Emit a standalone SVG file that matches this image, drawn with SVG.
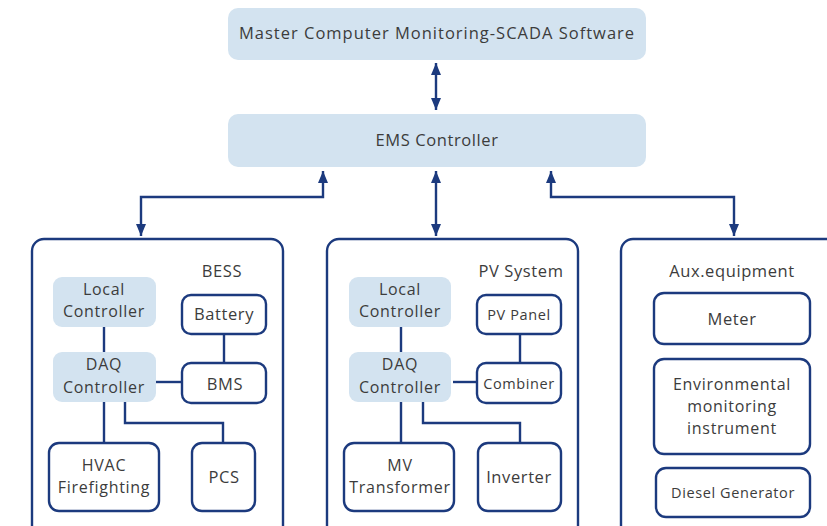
<svg xmlns="http://www.w3.org/2000/svg" width="827" height="526" viewBox="0 0 827 526">
<defs>
<style>
.lb{fill:#d3e3f0;stroke:none}
.bx{fill:#ffffff;stroke:#1c3a7e;stroke-width:2.4}
.ct{fill:none;stroke:#1c3a7e;stroke-width:2.4}
.ln{fill:none;stroke:#1c3a7e;stroke-width:2.4}
text{font-family:"Open Sans","Liberation Sans",sans-serif;font-size:16.5px;letter-spacing:0.6px;fill:#3c3c3c;text-anchor:middle}
.ml{font-size:16px;letter-spacing:0.7px}
.sm{font-size:14.5px;letter-spacing:0.6px}
</style>
<marker id="ah" viewBox="0 0 12 10" refX="12" refY="5" markerUnits="userSpaceOnUse" markerWidth="12" markerHeight="10" orient="auto-start-reverse">
<path d="M0,0 L12,5 L0,10 z" fill="#1c3a7e"/>
</marker>
</defs>
<g id="scada"><rect class="lb" x="228" y="8" width="418" height="52" rx="10"/><text x="437" y="39" style="letter-spacing:1px">Master Computer Monitoring-SCADA Software</text></g>
<g id="ems"><rect class="lb" x="228" y="114" width="418" height="53" rx="10"/><text x="437" y="146">EMS Controller</text></g>
<g id="bess"><rect class="ct" x="32" y="239" width="251" height="300" rx="12"/><text x="222" y="277">BESS</text></g>
<g id="bess-local"><rect class="lb" x="53" y="277" width="103" height="50" rx="9"/><text class="ml" x="104" y="295">Local</text><text class="ml" x="104" y="317">Controller</text></g>
<g id="bess-daq"><rect class="lb" x="53" y="352" width="103" height="50" rx="9"/><text class="ml" x="104" y="370">DAQ</text><text class="ml" x="104" y="393">Controller</text></g>
<g id="battery"><rect class="bx" x="182" y="295" width="84" height="39" rx="9"/><text x="224" y="320">Battery</text></g>
<g id="bms"><rect class="bx" x="182" y="363" width="84" height="40" rx="9"/><text x="225" y="390">BMS</text></g>
<g id="hvac"><rect class="bx" x="49" y="443" width="110" height="68" rx="10"/><text class="ml" x="104" y="471">HVAC</text><text class="ml" x="104" y="493">Firefighting</text></g>
<g id="pcs"><rect class="bx" x="192" y="443" width="63" height="68" rx="10"/><text x="224" y="483">PCS</text></g>
<g id="pv"><rect class="ct" x="327" y="239" width="251" height="300" rx="12"/><text x="521" y="277">PV System</text></g>
<g id="pv-local"><rect class="lb" x="349" y="277" width="102" height="50" rx="9"/><text class="ml" x="400" y="295">Local</text><text class="ml" x="400" y="317">Controller</text></g>
<g id="pv-daq"><rect class="lb" x="349" y="352" width="102" height="50" rx="9"/><text class="ml" x="400" y="370">DAQ</text><text class="ml" x="400" y="393">Controller</text></g>
<g id="pvpanel"><rect class="bx" x="477" y="295" width="84" height="39" rx="9"/><text class="sm" x="519" y="320">PV Panel</text></g>
<g id="combiner"><rect class="bx" x="477" y="363" width="84" height="40" rx="9"/><text class="sm" x="519" y="389">Combiner</text></g>
<g id="mv"><rect class="bx" x="344" y="443" width="110" height="68" rx="10"/><text class="ml" x="400" y="471">MV</text><text class="ml" x="400" y="493">Transformer</text></g>
<g id="inverter"><rect class="bx" x="478" y="443" width="83" height="68" rx="10"/><text x="519" y="483">Inverter</text></g>
<g id="aux"><rect class="ct" x="621" y="239" width="230" height="300" rx="12"/><text x="732" y="277">Aux.equipment</text></g>
<g id="meter"><rect class="bx" x="654" y="293" width="156" height="51" rx="10"/><text x="732" y="325">Meter</text></g>
<g id="env"><rect class="bx" x="654" y="359" width="156" height="95" rx="10"/><text class="ml" x="732" y="390">Environmental</text><text class="ml" x="732" y="412">monitoring</text><text class="ml" x="732" y="434">instrument</text></g>
<g id="diesel"><rect class="bx" x="656" y="468" width="154" height="49" rx="10"/><text class="sm" x="733" y="498">Diesel Generator</text></g>
<g id="connectors">
<path class="ln" d="M436,63 L436,110" marker-start="url(#ah)" marker-end="url(#ah)"/>
<path class="ln" d="M323,171 L323,197 L141,197 L141,236" marker-start="url(#ah)" marker-end="url(#ah)"/>
<path class="ln" d="M436,171 L436,236" marker-start="url(#ah)" marker-end="url(#ah)"/>
<path class="ln" d="M551,171 L551,197 L734,197 L734,236" marker-start="url(#ah)" marker-end="url(#ah)"/>
<path class="ln" d="M104,327 L104,352"/>
<path class="ln" d="M224,334 L224,363"/>
<path class="ln" d="M156,382 L182,382"/>
<path class="ln" d="M104,402 L104,443"/>
<path class="ln" d="M125,402 L125,423 L223,423 L223,443"/>
<path class="ln" d="M401,327 L401,352"/>
<path class="ln" d="M520,334 L520,363"/>
<path class="ln" d="M453,382 L477,382"/>
<path class="ln" d="M401,402 L401,443"/>
<path class="ln" d="M423,402 L423,423 L520,423 L520,443"/>
</g>
</svg>
